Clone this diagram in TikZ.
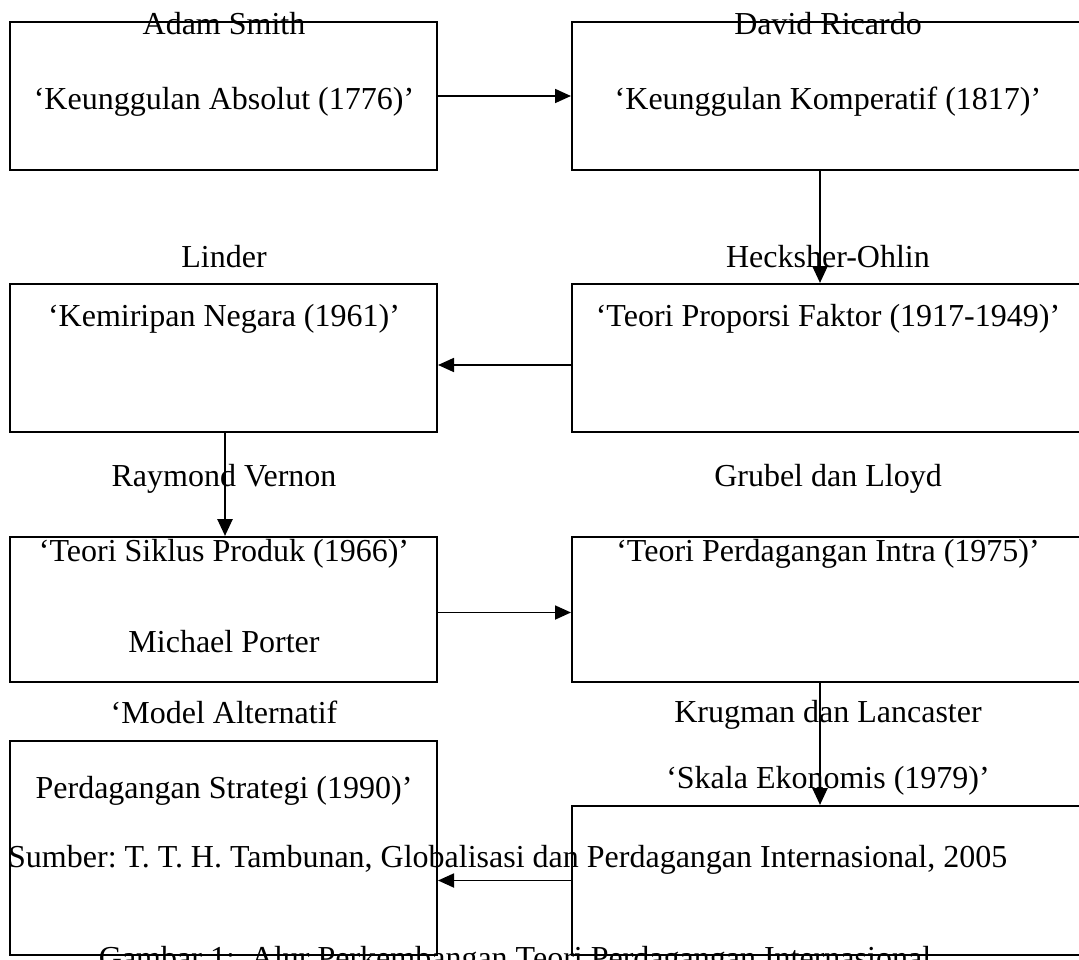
\documentclass[tikz,border=0pt]{standalone}
\usepackage{fontspec}
\setmainfont{Liberation Serif}
\usetikzlibrary{arrows.meta}
\begin{document}
\frenchspacing
\begin{tikzpicture}[x=1pt,y=-1pt,
  box/.style={draw, line width=2pt, inner sep=0pt, rectangle},
  lbl/.style={inner sep=0pt, anchor=base, font=\fontsize{32}{38}\selectfont},
  harr/.style={line width=1.8pt, -{Triangle[length=16pt,width=14pt]}},
  varr/.style={line width=2.6pt, -{Triangle[length=17pt,width=15pt]}}]
\useasboundingbox (0,0) rectangle (1079,960);
\clip (0,0) rectangle (1079,960);
% boxes
\node[box, minimum width=427pt, minimum height=148pt] (b1) at (223.5,96) {};
\node[box, minimum width=520pt, minimum height=148pt] (b2) at (832,96) {};
\node[box, minimum width=427pt, minimum height=148pt] (b3) at (223.5,358) {};
\node[box, minimum width=520pt, minimum height=148pt] (b4) at (832,358) {};
\node[box, minimum width=427pt, minimum height=145pt] (b5) at (223.5,609.5) {};
\node[box, minimum width=520pt, minimum height=145pt] (b6) at (832,609.5) {};
\node[box, minimum width=427pt, minimum height=214pt] (b7) at (223.5,848) {};
\node[box, minimum width=520pt, minimum height=149pt] (b8) at (832,880.5) {};
% texts
\node[lbl] (t1a) at (224,35) {Adam Smith};
\node[lbl] (t1b) at (224,110) {‘Keunggulan Absolut (1776)’};
\node[lbl] (t2a) at (828,35) {David Ricardo};
\node[lbl] (t2b) at (828,110) {‘Keunggulan Komperatif (1817)’};
\node[lbl] (t3a) at (224,268) {Linder};
\node[lbl] (t4a) at (828,268) {Hecksher-Ohlin};
\node[lbl] (t3b) at (224,326) {‘Kemiripan Negara (1961)’};
\node[lbl] (t4b) at (828,326) {‘Teori Proporsi Faktor (1917-1949)’};
\node[lbl] (t5a) at (224,486) {Raymond Vernon};
\node[lbl] (t6a) at (828,486) {Grubel dan Lloyd};
\node[lbl] (t5b) at (224,561) {‘Teori Siklus Produk (1966)’};
\node[lbl] (t6b) at (828,561) {‘Teori Perdagangan Intra (1975)’};
\node[lbl] (t5c) at (224,652) {Michael Porter};
\node[lbl] (t7a) at (224,723) {‘Model Alternatif};
\node[lbl] (t8a) at (828,722) {Krugman dan Lancaster};
\node[lbl] (t8b) at (828,788) {‘Skala Ekonomis (1979)’};
\node[lbl] (t7b) at (224,798) {Perdagangan Strategi (1990)’};
\node[lbl, anchor=base west] (src) at (8,867) {Sumber: T. T. H. Tambunan, Globalisasi dan Perdagangan Internasional, 2005};
\node[lbl] (cap) at (515,968) {Gambar 1:\ \ Alur Perkembangan Teori Perdagangan Internasional};
% connectors
\coordinate (rx) at (820,0);
\coordinate (lx) at (225,0);
\draw[harr] (b1.east) -- (b2.west);
\draw[varr] (b2.south -| rx) -- (b4.north -| rx);
\draw[harr] ([yshift=-7pt]b4.west) -- ([yshift=-7pt]b3.east);
\draw[varr] (b3.south -| lx) -- (b5.north -| lx);
\draw[harr] ([yshift=-3pt]b5.east) -- ([yshift=-3pt]b6.west);
\draw[varr] (b6.south -| rx) -- (b8.north -| rx);
\draw[harr] (b8.west) -- (b8.west -| b7.east);
\end{tikzpicture}
\end{document}
